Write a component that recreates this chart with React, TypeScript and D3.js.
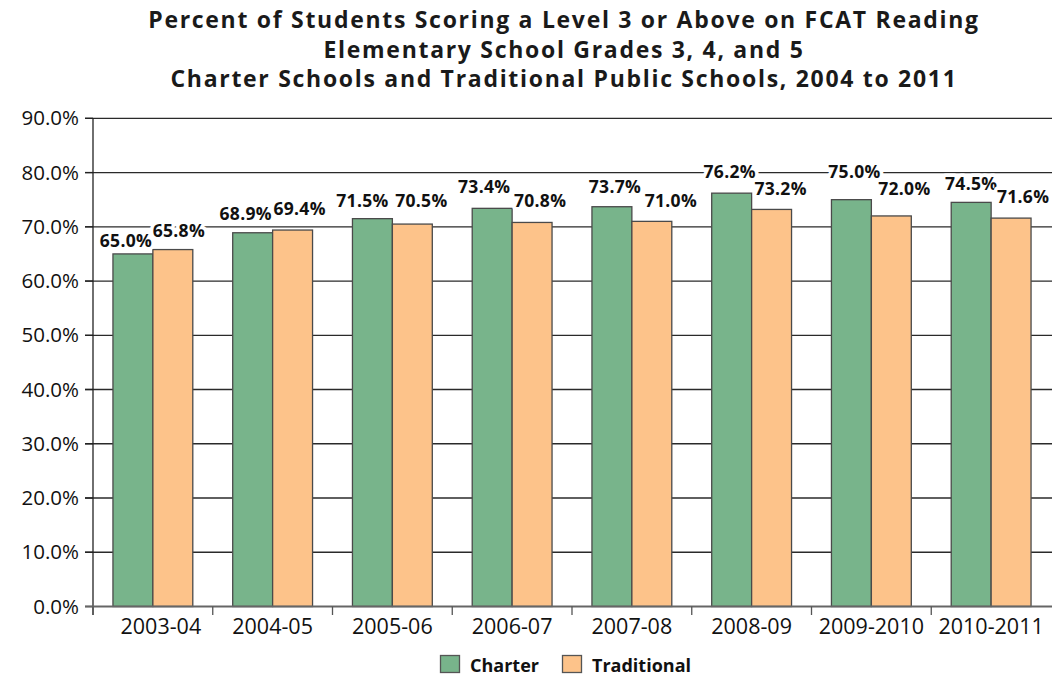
import { useMemo } from 'react';
import * as d3 from 'd3';

const years = ['2003-04', '2004-05', '2005-06', '2006-07', '2007-08', '2008-09', '2009-2010', '2010-2011'];
const charter = [65.0, 68.9, 71.5, 73.4, 73.7, 76.2, 75.0, 74.5];
const traditional = [65.8, 69.4, 70.5, 70.8, 71.0, 73.2, 72.0, 71.6];
const series = ['Charter', 'Traditional'];
const yTicks = [0, 10, 20, 30, 40, 50, 60, 70, 80, 90];
const titleLines = [
  'Percent of Students Scoring a Level 3 or Above on FCAT Reading',
  'Elementary School Grades 3, 4, and 5',
  'Charter Schools and Traditional Public Schools, 2004 to 2011',
];

// hand placement of the value labels in the original (pixel nudges)
const charterLabelDx = [-7, -7, -10, -8, 3, -2, 3, 0];
const charterLabelLift = [7, 13, 12, 15, 14, 15, 22, 12];
const tradLabelDx = [6, 7, 9, 8, 19, 9, 13, 12];
const tradLabelLift = [13, 15, 17, 15, 14, 14, 21, 15];

const W = 1052;
const H = 677;
const colors = { Charter: '#78b48b', Traditional: '#fdc38a' };
const font = '"Open Sans", sans-serif';

export default function App() {
  const x = useMemo(() => d3.scaleBand().domain(years).range([93, 1051]).padding(0), []);
  const inner = d3.scaleBand().domain(series).range([0, x.bandwidth()]).paddingInner(0).paddingOuter(0.5);
  const y = d3.scaleLinear().domain([0, 90]).range([606.5, 118.3]);

  const fmt = (v: number) => v.toFixed(1) + '%';

  return (
    <div style={{ position: 'fixed', left: 0, top: 0 }}>
      <svg width={W} height={H} style={{ display: 'block', background: '#fff' }}>
        {titleLines.map((t, i) => (
          <text key={t} x={564} y={28 + i * 29.5} textAnchor="middle" fontFamily={font} fontWeight={700}
            fontSize={23} letterSpacing={1.7} fill="#1a1a1a">{t}</text>
        ))}

        {/* gridlines */}
        {yTicks.filter(t => t > 0).map(t => (
          <line key={t} x1={85} x2={W} y1={y(t)} y2={y(t)} stroke="#2a2a2a" strokeWidth={1.3} />
        ))}
        {yTicks.map(t => (
          <g key={'yt' + t}>
            <line x1={85} x2={93} y1={y(t)} y2={y(t)} stroke="#222" strokeWidth={1.3} />
            <text x={79} y={y(t) + 7} textAnchor="end" fontFamily={font} fontSize={20.5} fill="#111">{fmt(t)}</text>
          </g>
        ))}

        {/* bars */}
        {years.map((yr, i) => (
          <g key={yr} transform={`translate(${x(yr)},0)`}>
            {[charter[i], traditional[i]].map((v, j) => (
              <rect key={j} x={inner(series[j])} y={y(v)} width={inner.bandwidth()} height={y(0) - y(v)}
                fill={colors[series[j] as 'Charter' | 'Traditional']} stroke="#4a4a4a" strokeWidth={1.3} />
            ))}
          </g>
        ))}

        {/* axes */}
        <line x1={93} x2={93} y1={118.3} y2={615} stroke="#222" strokeWidth={1.3} />
        <line x1={85} x2={W} y1={y(0)} y2={y(0)} stroke="#666" strokeWidth={2} />
        {years.map(yr => (
          <line key={'xt' + yr} x1={x(yr)!} x2={x(yr)!} y1={y(0)} y2={615} stroke="#555" strokeWidth={1.3} />
        ))}
        {years.map((yr, i) => (
          <text key={'xl' + yr} x={x(yr)! + x.bandwidth() / 2 + (i === 0 ? 8 : 0)} y={634} textAnchor="middle"
            fontFamily={font} fontSize={21.5} fill="#111">{yr}</text>
        ))}

        {/* value labels */}
        {years.map((yr, i) => {
          const x0 = x(yr)!;
          const cx = x0 + inner('Charter')! + inner.bandwidth() / 2 + charterLabelDx[i];
          const tx = x0 + inner('Traditional')! + inner.bandwidth() / 2 + tradLabelDx[i];
          return (
            <g key={'lb' + yr} fontFamily={font} fontWeight={700} fontSize={17.5} fill="#111" textAnchor="middle"
              letterSpacing={0.3}>
              <text x={cx} y={y(charter[i]) - charterLabelLift[i]} stroke="#fff" strokeWidth={7} strokeLinejoin="round"
                style={{ paintOrder: 'stroke' }}>{fmt(charter[i])}</text>
              <text x={tx} y={y(traditional[i]) - tradLabelLift[i]} stroke="#fff" strokeWidth={7} strokeLinejoin="round"
                style={{ paintOrder: 'stroke' }}>{fmt(traditional[i])}</text>
            </g>
          );
        })}

        {/* legend */}
        <g fontFamily={font} fontWeight={700} fontSize={18} fill="#111">
          <rect x={440.5} y={655.5} width={19} height={17} fill={colors.Charter} stroke="#555" strokeWidth={1.3} />
          <text x={470} y={672}>Charter</text>
          <rect x={562.5} y={655.5} width={19} height={17} fill={colors.Traditional} stroke="#555" strokeWidth={1.3} />
          <text x={592} y={672}>Traditional</text>
        </g>
      </svg>
    </div>
  );
}
